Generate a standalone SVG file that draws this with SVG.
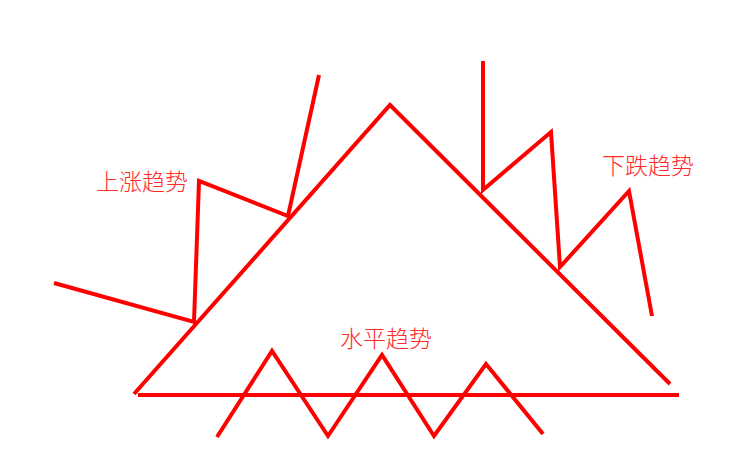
<svg xmlns="http://www.w3.org/2000/svg" width="750" height="468" viewBox="0 0 750 468">
<style>
.ln{fill:none;stroke:#ff0000;stroke-width:4;stroke-linejoin:miter;stroke-linecap:butt}
.lb{font-family:"Noto Sans CJK SC","Liberation Sans",sans-serif;font-size:23px;font-weight:300;fill:#ff2a2a}
</style>
<rect width="750" height="468" fill="#ffffff"/>
<g id="connectors">
<polyline id="triangle" class="ln" points="134,394 390,105 670,384"/>
<line id="base" class="ln" x1="138" y1="395" x2="679" y2="395"/>
<polyline id="uptrend" class="ln" points="54,283 194,322 199,181 288,216 319,75"/>
<polyline id="downtrend" class="ln" points="483,61 483,190 551,132 560,267 629,191 652,316"/>
<polyline id="sideways" class="ln" points="217,437 272,351 328,436 382,355 434,436 486,364 543,434"/>
</g>
<g id="label-up"><text class="lb" x="96" y="190">上涨趋势</text></g>
<g id="label-down"><text class="lb" x="602" y="174">下跌趋势</text></g>
<g id="label-flat"><text class="lb" x="340" y="347">水平趋势</text></g>
</svg>
